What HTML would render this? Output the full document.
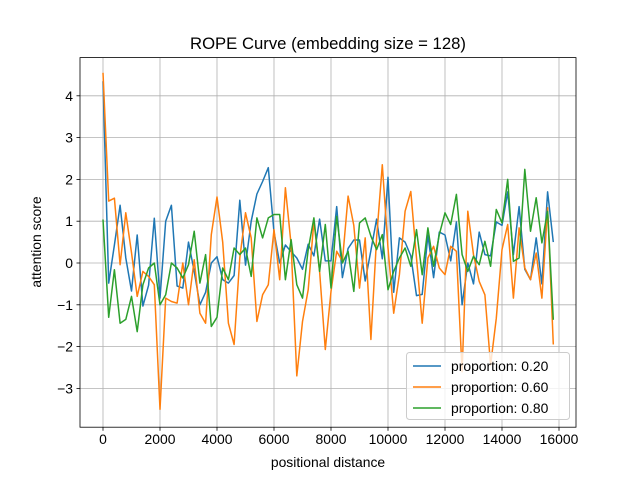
<!DOCTYPE html>
<html><head><meta charset="utf-8"><style>
body{margin:0;background:#fff;}
svg{display:block;font-family:"Liberation Sans","DejaVu Sans",sans-serif;}
</style></head><body>
<svg id="s" width="640" height="480" viewBox="0 0 640 480" xmlns="http://www.w3.org/2000/svg">
<rect width="640" height="480" fill="#fff"/>
<g id="grid" stroke="#b0b0b0" stroke-width="0.8"></g>
<g id="lines" fill="none" stroke-width="1.5" stroke-linejoin="round"></g>
<rect x="80" y="57.6" width="496" height="369.6" fill="none" stroke="#000" stroke-width="0.8"/>
<g id="ticks" stroke="#000" stroke-width="0.8"></g>
<g id="labels" font-size="13.9" fill="#000"></g>
<text x="328" y="49" font-size="16.7" text-anchor="middle">ROPE Curve (embedding size = 128)</text>
<text x="328" y="467" font-size="13.9" text-anchor="middle">positional distance</text>
<text x="41" y="242" font-size="13.9" text-anchor="middle" transform="rotate(-90 41 242)">attention score</text>
<g>
<rect x="406.5" y="352.5" width="163" height="67" rx="3" fill="#fff" fill-opacity="0.8" stroke="#ccc"/>
<line x1="413" y1="366" x2="441" y2="366" stroke="#1f77b4" stroke-width="1.5"/>
<line x1="413" y1="387" x2="441" y2="387" stroke="#ff7f0e" stroke-width="1.5"/>
<line x1="413" y1="408" x2="441" y2="408" stroke="#2ca02c" stroke-width="1.5"/>
<text x="451" y="371" font-size="13.9">proportion: 0.20</text>
<text x="451" y="392" font-size="13.9">proportion: 0.60</text>
<text x="451" y="413" font-size="13.9">proportion: 0.80</text>
</g>
</svg>
<script>
var X=function(v){return 103+v*(456/16000);};
var Y=function(v){return 263-v*41.8;};
var NS="http://www.w3.org/2000/svg";
function el(p,t,a,txt){var e=document.createElementNS(NS,t);for(var k in a)e.setAttribute(k,a[k]);if(txt!==undefined)e.textContent=txt;document.getElementById(p).appendChild(e);}
for(var x=0;x<=16000;x+=2000){var px=X(x);el('grid','line',{x1:px,y1:57.6,x2:px,y2:427.2});el('ticks','line',{x1:px,y1:427.2,x2:px,y2:430.7});el('labels','text',{x:px,y:444,'text-anchor':'middle'},String(x));}
for(var y=-3;y<=4;y++){var py=Y(y);el('grid','line',{x1:80,y1:py,x2:576,y2:py});el('ticks','line',{x1:76.5,y1:py,x2:80,y2:py});el('labels','text',{x:73,y:py+5,'text-anchor':'end'},y<0?'\u2212'+(-y):String(y));}
var blue=[4.35,-0.48,0.43,1.38,0.12,-0.67,0.67,-1.03,-0.53,1.07,-0.84,1.0,1.38,-0.55,-0.6,0.5,-0.2,-1.0,-0.7,0.0,0.15,-0.4,-0.48,-0.3,1.5,
-0.05,1.0,1.65,1.95,2.28,0.74,0.0,0.43,0.27,0.12,-0.15,0.45,0.17,1.05,0.05,0.05,1.35,-0.35,0.35,0.55,0.55,-0.43,0.3,1.05,0.1,2.05,-0.7,0.6,0.5,0.17,
-0.78,-0.75,0.67,-0.35,0.74,0.67,0.05,0.98,-1.0,0.0,-0.5,0.74,0.2,0.17,0.98,0.9,1.7,0.2,1.35,-0.15,-0.4,0.6,-0.5,1.7,0.5];
var orange=[4.55,1.48,1.55,-0.04,1.2,0.25,-0.8,-0.2,-0.32,-0.52,-3.5,-0.84,-0.92,-0.96,0.0,-1.0,0.08,-1.2,-1.44,0.68,1.58,0.5,-1.44,-1.95,0.12,
1.2,0.6,-1.4,-0.76,-0.52,0.8,-0.4,1.8,0.44,-2.7,-1.4,-0.64,1.0,-0.2,-2.07,-0.68,0.28,0.04,1.6,0.9,-0.6,0.6,-1.83,0.6,2.35,0.36,-1.2,
-0.28,1.24,1.71,0.12,-1.44,0.12,0.4,-0.12,-0.28,0.4,0.28,-2.6,1.24,0.2,-0.44,-0.76,-2.44,-1.32,0.32,0.92,-0.84,0.84,-0.12,-0.4,0.24,-0.84,1.32,-1.95];
var green=[1.04,-1.3,-0.16,-1.44,-1.35,-0.8,-1.64,-0.52,-0.12,0.0,-1.0,-0.76,0.0,-0.12,-0.36,-0.04,0.76,-0.48,0.2,-1.52,-1.3,-0.12,-0.4,0.36,0.2,
0.36,-0.32,1.08,0.6,1.08,1.16,1.16,-0.4,0.56,-0.52,-0.84,0.32,1.08,-0.2,0.92,-0.6,1.12,0.0,0.28,-0.68,0.96,1.08,0.64,0.32,0.68,-0.64,-0.2,
0.12,0.36,-0.08,0.8,-0.28,0.84,-0.08,0.68,1.2,0.92,1.64,0.2,-0.2,0.16,-0.04,0.52,-0.08,1.28,0.96,2.0,0.04,0.12,2.24,0.76,1.56,0.48,1.24,-1.36];
[[blue,'#1f77b4'],[orange,'#ff7f0e'],[green,'#2ca02c']].forEach(function(s){
var pts=s[0].map(function(v,i){return X(i*200).toFixed(1)+','+Y(v).toFixed(1);}).join(' ');
el('lines','polyline',{points:pts,stroke:s[1]});});
</script>
</body></html>
